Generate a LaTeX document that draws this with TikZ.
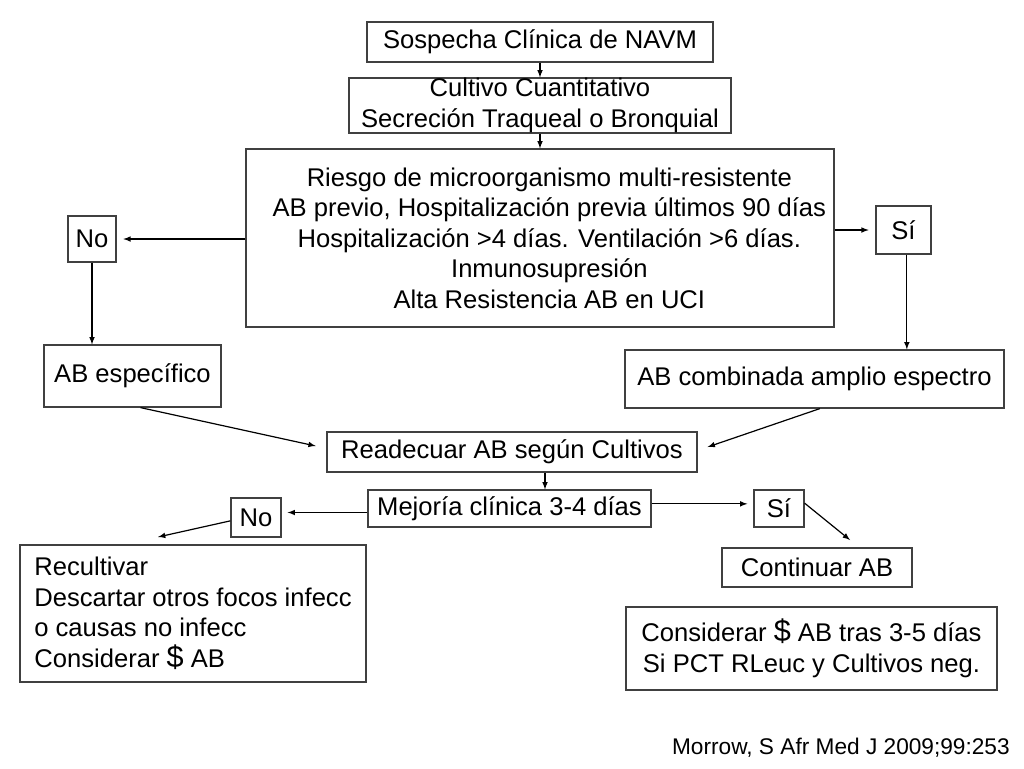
\documentclass[tikz,border=0pt]{standalone}
\usepackage{fontspec}
\setmainfont{Liberation Sans}
\usetikzlibrary{arrows,positioning}
\tikzstyle{box}=[rectangle,draw=black!75,line width=0.9pt,inner sep=0pt,
  align=center,font=\fontsize{19.2}{22.9}\selectfont]
\tikzstyle{flow}=[-latex,line width=0.9pt]

\begin{document}
\begin{tikzpicture}[x=0.75pt,y=-0.75pt]
  \useasboundingbox (0,0) rectangle (1024,768);

  \node[box,minimum width=259.5pt,minimum height=30pt] (sospecha) at (540,42) {Sospecha Clínica de NAVM};
  \node[box,minimum width=286.5pt,minimum height=41.25pt] (cultivo) at (540,105.5)
    {Cultivo Cuantitativo\\Secreción Traqueal o Bronquial};
  \node[box,minimum width=441pt,minimum height=133.5pt] (riesgo) at (540,238)
    {\hspace*{14pt}Riesgo de microorganismo multi-resistente\\
     \hspace*{14pt}AB previo, Hospitalización previa últimos 90 días\\
     \hspace*{14pt}Hospitalización >4 días. Ventilación >6 días.\\
     \hspace*{14pt}Inmunosupresión\\
     \hspace*{14pt}Alta Resistencia AB en UCI};
  \node[box,minimum width=36pt,minimum height=34.5pt] (no1) at (92,239) {No};
  \node[box,minimum width=41.25pt,minimum height=36pt] (si1) at (903.5,230) {Sí};
  \node[box,minimum width=132.75pt,minimum height=46.5pt] (abesp) at (132.5,376) {AB específico};
  \node[box,minimum width=284.25pt,minimum height=43.5pt] (abcomb) at (814.5,379) {AB combinada amplio espectro};
  \node[box,minimum width=277.5pt,minimum height=30pt] (readecuar) at (512,452) {Readecuar AB según Cultivos};
  \node[box,minimum width=212.25pt,minimum height=27.75pt] (mejoria) at (509.5,508.5) {Mejoría clínica 3-4 días};
  \node[box,minimum width=37.5pt,minimum height=29.25pt] (no2) at (256,517.5) {No};
  \node[box,minimum width=37.5pt,minimum height=27.75pt] (si2) at (779,508.5) {Sí};
  \node[box,align=left,minimum width=259.5pt,minimum height=102.75pt] (recultivar) at (193,613.5)
    {Recultivar\\Descartar otros focos infecc\\o causas no infecc\\Considerar {\fontsize{23}{22.9}\selectfont\$} AB};
  \node[box,minimum width=142.5pt,minimum height=29.25pt] (continuar) at (817,567.5) {Continuar AB};
  \node[box,minimum width=278.25pt,minimum height=62.25pt] (considerar) at (811.5,648.5)
    {Considerar {\fontsize{23}{22.9}\selectfont\$} AB tras 3-5 días\\Si PCT RLeuc y Cultivos neg.};
  \node[anchor=east,inner sep=0pt,font=\fontsize{17}{20}\selectfont] (cita) at (1010,748) {Morrow, S Afr Med J 2009;99:253};

  \coordinate (noend) at (158,537);
  \coordinate (siend) at (850,540);

  \draw[flow] (sospecha) -- (cultivo);
  \draw[flow] (cultivo) -- (riesgo);
  \draw[flow,shorten >=5pt] (riesgo.west |- no1.east) -- (no1.east);
  \draw[flow,shorten >=5pt] (riesgo.east |- si1.west) -- (si1.west);
  \draw[flow] (no1.south) -- (no1.south |- abesp.north);
  \draw[flow] ([xshift=2.5pt]si1.south) -- ([xshift=2.5pt]si1.south |- abcomb.north);
  \draw[flow] ([xshift=6pt]abesp.south) -- ([xshift=-8pt,yshift=4.5pt]readecuar.west);
  \draw[flow] ([xshift=4pt]abcomb.south) -- ([xshift=7.5pt,yshift=3.75pt]readecuar.east);
  \draw[flow] ([xshift=24.75pt]readecuar.south) -- ([xshift=24.75pt]readecuar.south |- mejoria.north);
  \draw[flow,shorten >=4.5pt] ([yshift=-3pt]mejoria.west) -- ([yshift=-3pt]mejoria.west -| no2.east);
  \draw[flow,shorten >=4.5pt] ([yshift=3.5pt]mejoria.east) -- ([yshift=3.5pt]mejoria.east -| si2.west);
  \draw[flow] ([yshift=-2.5pt]no2.west) -- (noend);
  \draw[flow] ([yshift=4pt]si2.east) -- (siend);
\end{tikzpicture}
\end{document}
